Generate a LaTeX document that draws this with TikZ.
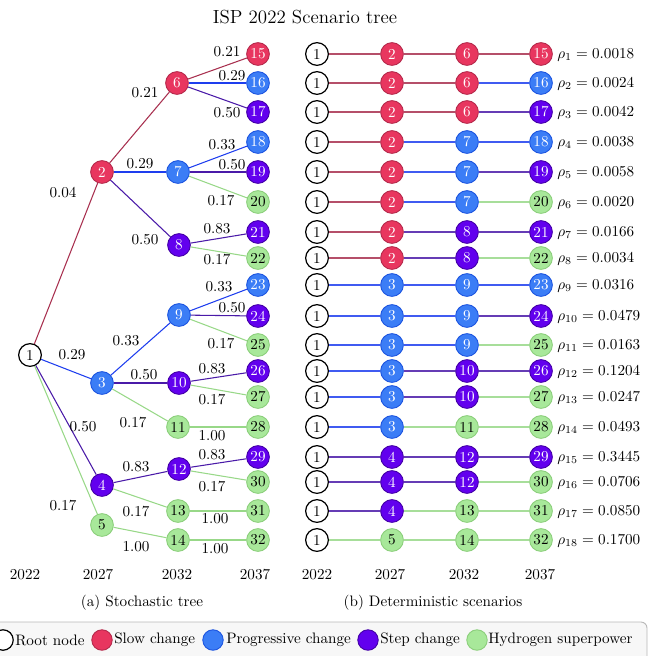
\documentclass[tikz,border=0pt]{standalone}
\usetikzlibrary{positioning}
\definecolor{fO}{HTML}{FFFFFF}\definecolor{dO}{HTML}{000000}\definecolor{tO}{HTML}{000000}
\definecolor{fR}{HTML}{E8365F}\definecolor{dR}{HTML}{B52A4C}\definecolor{tR}{HTML}{FFFFFF}
\definecolor{fB}{HTML}{3B7DF6}\definecolor{dB}{HTML}{1D55E0}\definecolor{tB}{HTML}{FFFFFF}
\definecolor{fP}{HTML}{6200EE}\definecolor{dP}{HTML}{4400A8}\definecolor{tP}{HTML}{FFFFFF}
\definecolor{fG}{HTML}{A8E89A}\definecolor{dG}{HTML}{8CCF7C}\definecolor{tG}{HTML}{000000}
\definecolor{eR}{HTML}{A8304F}\definecolor{eB}{HTML}{1E3EEE}
\definecolor{eP}{HTML}{4A1AA8}\definecolor{eG}{HTML}{98D888}
\begin{document}
\begin{tikzpicture}[x=0.66pt,y=-0.66pt,
  nd/.style={circle,minimum size=15pt,inner sep=0pt,line width=0.6pt,fill=f#1,draw=d#1,text=t#1},
  root/.style={nd=O,line width=0.8pt},
  ed/.style={draw=e#1,line width=0.7pt},
  sed/.style={draw=e#1!85!white,line width=0.7pt},
  lab/.style={inner sep=0pt},
  yr/.style={inner sep=0pt},
  lg/.style={circle,minimum size=13.5pt,inner sep=0pt,line width=0.6pt,fill=f#1,draw=d#1}]
\useasboundingbox (0,0) rectangle (656,655);
% title
\node[inner sep=0pt,font=\fontsize{12.5}{15}\selectfont] (title) at (305,17) {ISP 2022 Scenario tree};
% ---------------- stochastic tree ----------------
\node[root] (t1) at (30,355) {1};
\node[nd=R] (t2) at (102,172) {2};
\node[nd=B] (t3) at (102,383) {3};
\node[nd=P] (t4) at (102,485) {4};
\node[nd=G] (t5) at (102,525) {5};
\node[nd=R] (t6) at (177,83) {6};
\node[nd=B] (t7) at (178,172) {7};
\node[nd=P] (t8) at (179,245) {8};
\node[nd=B] (t9) at (179,315) {9};
\node[nd=P] (t10) at (179,383) {10};
\node[nd=G] (t11) at (178,427) {11};
\node[nd=P] (t12) at (179,469) {12};
\node[nd=G] (t13) at (178,511) {13};
\node[nd=G] (t14) at (178,540) {14};
\foreach \n/\k/\y in {15/R/54,16/B/83,17/P/112,18/B/142,19/P/172,20/G/202,21/P/232,22/G/258,23/B/285,24/P/316,25/G/345,26/P/371,27/G/397,28/G/427,29/P/457,30/G/482,31/G/511,32/G/540}
  {\node[nd=\k] (t\n) at (258,\y) {\n};}
\foreach \p/\c/\k/\l/\x/\y [count=\j] in {
  1/2/R/0.04/63/193, 1/3/B/0.29/72/355, 1/4/P/0.50/83/427, 1/5/G/0.17/63/506,
  2/6/R/0.21/145/93, 2/7/B/0.29/140/164, 2/8/P/0.50/145/240,
  3/9/B/0.33/126/341, 3/10/P/0.50/144/375, 3/11/G/0.17/133/423,
  4/12/P/0.83/136/467, 4/13/G/0.17/136/512, 5/14/G/1.00/136/547,
  6/15/R/0.21/227/52, 6/16/B/0.29/232/76, 6/17/P/0.50/227/113,
  7/18/B/0.33/222/145, 7/19/P/0.50/232/165, 7/20/G/0.17/221/201,
  8/21/P/0.83/217/229, 8/22/G/0.17/217/260,
  9/23/B/0.33/219/287, 9/24/P/0.50/232/308, 9/25/G/0.17/221/344,
  10/26/P/0.83/212/369, 10/27/G/0.17/212/400, 11/28/G/1.00/212/436,
  12/29/P/0.83/212/455, 12/30/G/0.17/212/487, 13/31/G/1.00/215/519, 14/32/G/1.00/215/549}
  {\draw[ed=\k] (t\p) -- (t\c);
   \node[lab] (lab\j) at (\x,\y) {\l};}
% years (a)
\node[yr] (ya1) at (25,575) {2022};
\node[yr] (ya2) at (98,575) {2027};
\node[yr] (ya3) at (177,575) {2032};
\node[yr] (ya4) at (255,575) {2037};
\node[inner sep=0pt] (capa) at (142,603) {(a) Stochastic tree};
% ---------------- deterministic scenarios ----------------
\foreach \i/\y/\a/\ka/\b/\kb/\c/\kc/\p in {
  1/54/2/R/6/R/15/R/0.0018, 2/83/2/R/6/R/16/B/0.0024, 3/112/2/R/6/R/17/P/0.0042,
  4/142/2/R/7/B/18/B/0.0038, 5/172/2/R/7/B/19/P/0.0058, 6/202/2/R/7/B/20/G/0.0020,
  7/232/2/R/8/P/21/P/0.0166, 8/258/2/R/8/P/22/G/0.0034, 9/285/3/B/9/B/23/B/0.0316,
  10/316/3/B/9/B/24/P/0.0479, 11/345/3/B/9/B/25/G/0.0163, 12/371/3/B/10/P/26/P/0.1204,
  13/397/3/B/10/P/27/G/0.0247, 14/427/3/B/11/G/28/G/0.0493, 15/457/4/P/12/P/29/P/0.3445,
  16/482/4/P/12/P/30/G/0.0706, 17/511/4/P/13/G/31/G/0.0850, 18/540/5/G/14/G/32/G/0.1700}
{
  \node[root] (r\i a) at (317,\y) {1};
  \node[nd=\ka] (r\i b) at (392,\y) {\a};
  \node[nd=\kb] (r\i c) at (467,\y) {\b};
  \node[nd=\kc] (r\i d) at (541,\y) {\c};
  \draw[sed=\ka] (r\i a) -- (r\i b);
  \draw[sed=\kb] (r\i b) -- (r\i c);
  \draw[sed=\kc] (r\i c) -- (r\i d);
  \node[anchor=base west,inner sep=0pt] (rho\i) at (557,\y+4.5) {$\rho_{\i} = \p$};
}
\node[yr] (yb1) at (317,575) {2022};
\node[yr] (yb2) at (390,575) {2027};
\node[yr] (yb3) at (464,575) {2032};
\node[yr] (yb4) at (540,575) {2037};
\node[inner sep=0pt] (capb) at (433,603) {(b) Deterministic scenarios};
% ---------------- legend ----------------
\draw[rounded corners=4pt,draw=black!28,fill=black!3,line width=0.6pt] (-10,622) rectangle (647,675);
\node[lg=O,line width=0.8pt] (lc1) at (3,640) {};
\node[anchor=west,inner sep=0pt] (lt1) at (15,640) {Root node};
\node[lg=R] (lc2) at (102,640) {};
\node[anchor=west,inner sep=0pt] (lt2) at (114,640) {Slow change};
\node[lg=B] (lc3) at (213,640) {};
\node[anchor=west,inner sep=0pt] (lt3) at (226,640) {Progressive change};
\node[lg=P] (lc4) at (368,640) {};
\node[anchor=west,inner sep=0pt] (lt4) at (380,640) {Step change};
\node[lg=G] (lc5) at (477,640) {};
\node[anchor=west,inner sep=0pt] (lt5) at (488,640) {Hydrogen superpower};
\end{tikzpicture}
\end{document}
